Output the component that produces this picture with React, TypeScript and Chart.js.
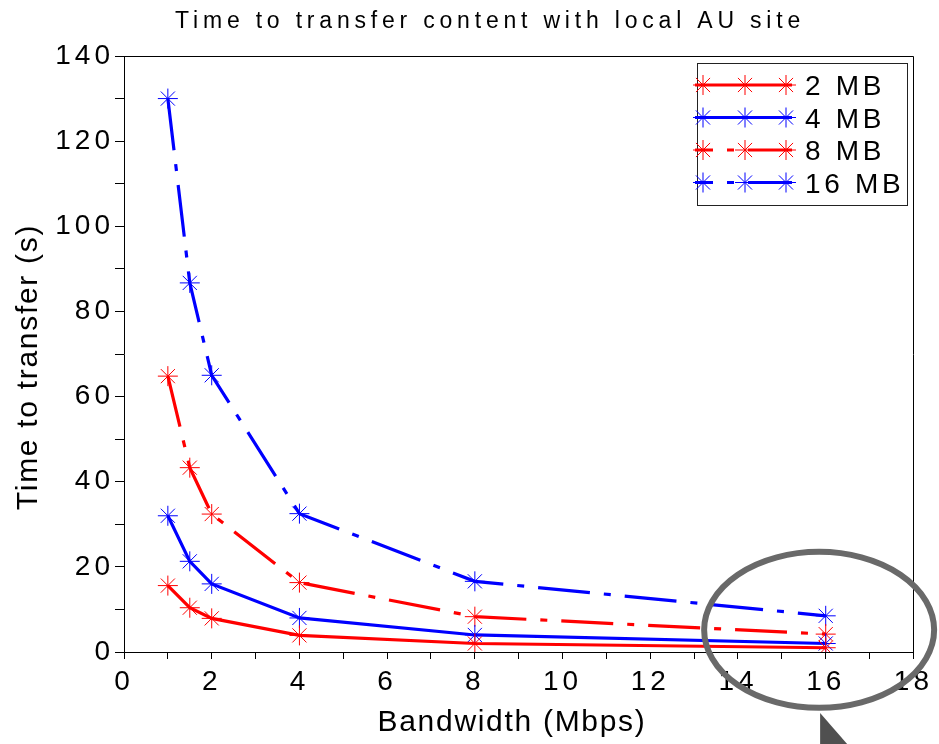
import React, { useEffect, useRef } from "react";
import { Chart, registerables } from "chart.js";

Chart.register(...registerables);

// ---- data ----
const bandwidthMbps = [1, 1.5, 2, 4, 8, 16];
const time2MB = [15.6, 10.4, 7.9, 3.9, 2.0, 1.0];
const time4MB = [32.0, 21.3, 16.0, 8.0, 4.0, 2.0];
const time8MB = [64.8, 43.3, 32.4, 16.3, 8.3, 4.2];
const time16MB = [130.0, 86.7, 65.0, 32.5, 16.6, 8.5];
const seriesLabels = ["2 MB", "4 MB", "8 MB", "16 MB"];
const xTickValues = [0, 1, 2, 3, 4, 5, 6, 7, 8, 9, 10, 11, 12, 13, 14, 15, 16, 17, 18];
const yTickValues = [0, 10, 20, 30, 40, 50, 60, 70, 80, 90, 100, 110, 120, 130, 140];
const chartTitle = "Time to transfer content with local AU site";
const xTitle = "Bandwidth (Mbps)";
const yTitle = "Time to transfer (s)";

const FONT = '"Liberation Sans", Arial, Helvetica, sans-serif';
const RED = "#ff0000";
const BLUE = "#0000ff";
const DASH_DOT = [52, 14, 7, 14];

const seriesValues = [time2MB, time4MB, time8MB, time16MB];
const seriesColors = [RED, BLUE, RED, BLUE];
const seriesDashes: number[][] = [[], [], DASH_DOT, DASH_DOT];

function drawStar(ctx: CanvasRenderingContext2D, x: number, y: number, r: number, color: string) {
  ctx.save();
  ctx.setLineDash([]);
  ctx.strokeStyle = color;
  ctx.lineWidth = 1;
  ctx.beginPath();
  for (let k = 0; k < 4; k++) {
    const a = (k * Math.PI) / 4;
    ctx.moveTo(x - Math.cos(a) * r, y - Math.sin(a) * r);
    ctx.lineTo(x + Math.cos(a) * r, y + Math.sin(a) * r);
  }
  ctx.stroke();
  ctx.restore();
}

const decorPlugin = {
  id: "decor",
  beforeUpdate(chart: any) {
    chart.ctx.letterSpacing = "4px";
  },
  beforeLayout(chart: any) {
    chart.ctx.letterSpacing = "4px";
  },
  beforeDraw(chart: any) {
    const ctx = chart.ctx;
    ctx.save();
    ctx.fillStyle = "#ffffff";
    ctx.fillRect(0, 0, chart.width, chart.height);
    ctx.restore();
    ctx.letterSpacing = "4px";
  },
  afterDraw(chart: any) {
    const ctx: CanvasRenderingContext2D = chart.ctx;
    const { left, right, top, bottom } = chart.chartArea;
    ctx.save();
    // top & right frame
    ctx.strokeStyle = "#000";
    ctx.lineWidth = 1;
    ctx.beginPath();
    ctx.moveTo(Math.round(left) + 0.5, Math.round(top) + 0.5);
    ctx.lineTo(Math.round(right) + 0.5, Math.round(top) + 0.5);
    ctx.lineTo(Math.round(right) + 0.5, Math.round(bottom) + 0.5);
    ctx.stroke();

    ctx.fillStyle = "#000";
    // title
    (ctx as any).letterSpacing = "4.8px";
    ctx.font = `23px ${FONT}`;
    ctx.textAlign = "center";
    ctx.textBaseline = "alphabetic";
    ctx.fillText(chartTitle, 490, 28);

    // x title
    (ctx as any).letterSpacing = "1.7px";
    ctx.font = `30px ${FONT}`;
    ctx.fillText(xTitle, 512, 731);

    // y title
    ctx.save();
    ctx.translate(37, 367);
    ctx.rotate(-Math.PI / 2);
    ctx.fillText(yTitle, 0, 0);
    ctx.restore();

    // legend
    const lx0 = 697, ly0 = 63, lx1 = 907, ly1 = 205;
    ctx.fillStyle = "#fff";
    ctx.fillRect(lx0, ly0, lx1 - lx0, ly1 - ly0);
    ctx.strokeStyle = "#222";
    ctx.lineWidth = 1;
    ctx.strokeRect(lx0 + 0.5, ly0 + 0.5, lx1 - lx0, ly1 - ly0);
    (ctx as any).letterSpacing = "3.7px";
    ctx.font = `28px ${FONT}`;
    ctx.textAlign = "left";
    seriesLabels.forEach((lab, i) => {
      const ry = 85 + i * 32.5;
      ctx.save();
      ctx.strokeStyle = seriesColors[i];
      ctx.lineWidth = 3.2;
      ctx.setLineDash(seriesDashes[i]);
      ctx.lineDashOffset = seriesDashes[i].length ? 34 : 0;
      ctx.beginPath();
      ctx.moveTo(695, ry);
      ctx.lineTo(792, ry);
      ctx.stroke();
      ctx.restore();
      [703, 745, 786].forEach((sx) => drawStar(ctx, sx, ry, 10, seriesColors[i]));
      ctx.fillStyle = "#000";
      ctx.fillText(lab, 805, ry + 10);
    });

    // annotation ellipse + pointer
    const xs = chart.scales.x;
    const ys = chart.scales.y;
    const cx = xs.getPixelForValue(15.85);
    const cy = ys.getPixelForValue(5.2);
    ctx.strokeStyle = "rgb(105,105,105)";
    ctx.lineWidth = 6;
    ctx.beginPath();
    ctx.ellipse(cx, cy, 115, 78, 0, 0, Math.PI * 2);
    ctx.stroke();
    ctx.fillStyle = "rgb(80,80,80)";
    ctx.beginPath();
    ctx.moveTo(cx + 1, 713);
    ctx.lineTo(cx + 1, 744);
    ctx.lineTo(cx + 28, 744);
    ctx.closePath();
    ctx.fill();
    ctx.restore();
  },
};

export default function App() {
  const ref = useRef<HTMLCanvasElement | null>(null);
  useEffect(() => {
    document.body.style.margin = "0";
    const canvas = ref.current!;
    const datasets = seriesLabels.map((label, i) => ({
      label,
      data: bandwidthMbps.map((x, j) => ({ x, y: seriesValues[i][j] })),
      borderColor: seriesColors[i],
      backgroundColor: seriesColors[i],
      borderWidth: 3.2,
      borderDash: seriesDashes[i],
      pointStyle: "star" as const,
      pointRadius: 10,
      pointBorderWidth: 1,
      pointBorderColor: seriesColors[i],
      pointBackgroundColor: seriesColors[i],
      tension: 0,
      fill: false,
    }));
    const chart = new Chart(canvas, {
      type: "line",
      data: { datasets },
      plugins: [decorPlugin],
      options: {
        responsive: false,
        animation: false,
        devicePixelRatio: 1,
        layout: { padding: { top: 56, right: 21, left: 0, bottom: 0 } },
        plugins: {
          legend: { display: false },
          title: { display: false },
          tooltip: { enabled: false },
        },
        scales: {
          x: {
            type: "linear",
            min: 0,
            max: 18,
            afterFit: (s: any) => {
              s.height = 92;
            },
            afterBuildTicks: (s: any) => {
              s.ticks = xTickValues.map((v) => ({ value: v }));
            },
            ticks: {
              autoSkip: false,
              maxRotation: 0,
              minRotation: 0,
              padding: 6,
              color: "#000",
              font: { family: FONT, size: 28 },
              callback: (v: any) => (Number(v) % 2 === 0 ? String(v) : ""),
            },
            grid: { drawOnChartArea: false, drawTicks: true, tickLength: 7, color: "#000", tickColor: "#000" },
            border: { color: "#000", width: 1 },
          },
          y: {
            type: "linear",
            min: 0,
            max: 140,
            afterFit: (s: any) => {
              s.width = 124;
            },
            afterBuildTicks: (s: any) => {
              s.ticks = yTickValues.map((v) => ({ value: v }));
            },
            ticks: {
              autoSkip: false,
              padding: 1,
              color: "#000",
              font: { family: FONT, size: 28 },
              callback: (v: any) => (Number(v) % 20 === 0 ? String(v) : ""),
            },
            grid: { drawOnChartArea: false, drawTicks: true, tickLength: 9, color: "#000", tickColor: "#000" },
            border: { color: "#000", width: 1 },
          },
        },
      } as any,
    });
    return () => chart.destroy();
  }, []);
  return (
    <div style={{ position: "absolute", left: 0, top: 0, width: 939, height: 744 }}>
      <canvas ref={ref} width={939} height={744} />
    </div>
  );
}
